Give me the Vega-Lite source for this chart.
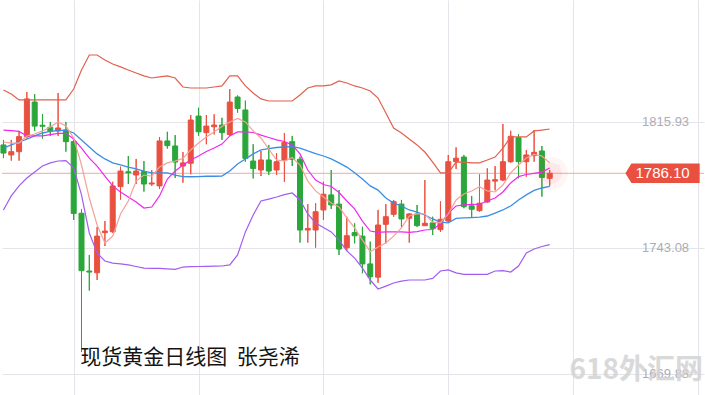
{
 "$schema": "https://vega.github.io/schema/vega-lite/v6.json",
 "width": 705,
 "height": 395,
 "autosize": {"type": "fit", "contains": "padding"},
 "padding": 0,
 "background": "#ffffff",
 "config": {"view": {"stroke": null}, "axis": {"title": null}},
 "data": {"values": [
  {"i":1,"o":1802.5,"h":1805.4,"l":1794.9,"c":1797.8,"ub":1834.3,"mb":1800.7,"lb":1764.9,"ma5":1804.2,"ma10":1811.1},
  {"i":2,"o":1796.7,"h":1805.4,"l":1793.4,"c":1798.6,"ub":1831.9,"mb":1802.5,"lb":1773.0,"ma5":1803.6,"ma10":1810.8},
  {"i":3,"o":1798.6,"h":1810.6,"l":1793.4,"c":1807.3,"ub":1828.5,"mb":1804.2,"lb":1778.8,"ma5":1803.6,"ma10":1810.3},
  {"i":4,"o":1807.3,"h":1833.1,"l":1806.3,"c":1829.1,"ub":1828.5,"mb":1805.9,"lb":1783.4,"ma5":1807.7,"ma10":1807.7},
  {"i":5,"o":1827.3,"h":1831.9,"l":1810.6,"c":1813.4,"ub":1828.5,"mb":1807.7,"lb":1786.8,"ma5":1808.8,"ma10":1807.7},
  {"i":6,"o":1813.9,"h":1820.4,"l":1806.2,"c":1813.3,"ub":1828.5,"mb":1809.4,"lb":1790.3,"ma5":1810.6,"ma10":1807.7},
  {"i":7,"o":1812.7,"h":1815.8,"l":1807.7,"c":1810.6,"ub":1828.5,"mb":1810.3,"lb":1792.1,"ma5":1812.9,"ma10":1808.5},
  {"i":8,"o":1810.6,"h":1832.5,"l":1807.7,"c":1812.3,"ub":1828.5,"mb":1810.8,"lb":1793.2,"ma5":1815.8,"ma10":1809.2},
  {"i":9,"o":1811.1,"h":1815.8,"l":1798.6,"c":1804.4,"ub":1828.5,"mb":1811.1,"lb":1793.4,"ma5":1813.4,"ma10":1809.2},
  {"i":10,"o":1804.4,"h":1805.4,"l":1759.1,"c":1762.9,"ub":1834.8,"mb":1809.4,"lb":1789.2,"ma5":1806.5,"ma10":1805.9},
  {"i":11,"o":1763.0,"h":1765.5,"l":1682.8,"c":1729.8,"ub":1845.8,"mb":1805.4,"lb":1773.6,"ma5":1790.9,"ma10":1800.7},
  {"i":12,"o":1729.6,"h":1738.9,"l":1718.3,"c":1729.0,"ub":1854.5,"mb":1801.3,"lb":1751.6,"ma5":1771.8,"ma10":1794.9},
  {"i":13,"o":1728.6,"h":1755.1,"l":1724.4,"c":1749.8,"ub":1854.5,"mb":1797.3,"lb":1740.0,"ma5":1756.2,"ma10":1790.3},
  {"i":14,"o":1751.8,"h":1758.5,"l":1744.1,"c":1752.7,"ub":1851.6,"mb":1794.4,"lb":1735.4,"ma5":1745.8,"ma10":1784.5},
  {"i":15,"o":1752.3,"h":1781.2,"l":1751.6,"c":1778.8,"ub":1849.3,"mb":1792.1,"lb":1734.2,"ma5":1749.8,"ma10":1778.8},
  {"i":16,"o":1778.4,"h":1789.9,"l":1770.9,"c":1787.4,"ub":1847.6,"mb":1790.9,"lb":1733.7,"ma5":1762.6,"ma10":1775.3},
  {"i":17,"o":1787.0,"h":1796.1,"l":1779.9,"c":1786.4,"ub":1845.8,"mb":1789.7,"lb":1733.1,"ma5":1770.1,"ma10":1772.4},
  {"i":18,"o":1785.1,"h":1794.4,"l":1779.9,"c":1787.4,"ub":1844.1,"mb":1788.6,"lb":1732.2,"ma5":1781.6,"ma10":1769.5},
  {"i":19,"o":1787.1,"h":1793.2,"l":1775.5,"c":1779.9,"ub":1842.4,"mb":1787.4,"lb":1731.3,"ma5":1785.1,"ma10":1766.0},
  {"i":20,"o":1779.9,"h":1788.0,"l":1778.8,"c":1780.5,"ub":1841.2,"mb":1786.4,"lb":1731.1,"ma5":1784.5,"ma10":1766.6},
  {"i":21,"o":1778.8,"h":1807.1,"l":1777.0,"c":1804.8,"ub":1841.8,"mb":1786.4,"lb":1731.1,"ma5":1789.7,"ma10":1773.0},
  {"i":22,"o":1804.8,"h":1810.1,"l":1800.4,"c":1802.1,"ub":1842.4,"mb":1786.4,"lb":1730.8,"ma5":1792.1,"ma10":1782.8},
  {"i":23,"o":1801.9,"h":1808.2,"l":1783.4,"c":1792.6,"ub":1841.2,"mb":1785.1,"lb":1730.6,"ma5":1793.2,"ma10":1787.4},
  {"i":24,"o":1790.3,"h":1798.4,"l":1780.7,"c":1792.1,"ub":1836.0,"mb":1784.2,"lb":1731.9,"ma5":1794.7,"ma10":1790.9},
  {"i":25,"o":1791.9,"h":1819.8,"l":1785.5,"c":1816.9,"ub":1835.4,"mb":1784.1,"lb":1732.1,"ma5":1799.6,"ma10":1793.8},
  {"i":26,"o":1819.2,"h":1824.0,"l":1807.8,"c":1810.1,"ub":1835.4,"mb":1784.2,"lb":1732.2,"ma5":1803.6,"ma10":1796.1},
  {"i":27,"o":1809.6,"h":1819.8,"l":1802.9,"c":1813.4,"ub":1835.4,"mb":1784.4,"lb":1732.3,"ma5":1807.1,"ma10":1798.7},
  {"i":28,"o":1813.0,"h":1820.2,"l":1808.6,"c":1814.0,"ub":1836.0,"mb":1784.4,"lb":1732.4,"ma5":1810.1,"ma10":1800.7},
  {"i":29,"o":1814.0,"h":1818.2,"l":1805.4,"c":1809.6,"ub":1836.6,"mb":1784.5,"lb":1732.5,"ma5":1813.2,"ma10":1803.0},
  {"i":30,"o":1808.5,"h":1834.8,"l":1807.7,"c":1827.3,"ub":1842.4,"mb":1787.4,"lb":1733.1,"ma5":1815.8,"ma10":1807.7},
  {"i":31,"o":1830.2,"h":1831.1,"l":1821.1,"c":1823.6,"ub":1842.4,"mb":1791.5,"lb":1738.9,"ma5":1817.8,"ma10":1810.0},
  {"i":32,"o":1822.7,"h":1828.1,"l":1792.8,"c":1794.7,"ub":1836.6,"mb":1794.4,"lb":1752.2,"ma5":1815.8,"ma10":1810.0},
  {"i":33,"o":1793.2,"h":1802.9,"l":1783.1,"c":1788.9,"ub":1832.5,"mb":1797.3,"lb":1762.0,"ma5":1810.6,"ma10":1809.7},
  {"i":34,"o":1788.0,"h":1799.0,"l":1784.5,"c":1793.8,"ub":1829.1,"mb":1799.6,"lb":1770.1,"ma5":1806.5,"ma10":1808.2},
  {"i":35,"o":1793.8,"h":1802.5,"l":1785.1,"c":1787.4,"ub":1827.9,"mb":1800.4,"lb":1771.2,"ma5":1800.1,"ma10":1806.8},
  {"i":36,"o":1788.0,"h":1797.8,"l":1785.1,"c":1792.8,"ub":1827.9,"mb":1801.0,"lb":1772.4,"ma5":1793.8,"ma10":1805.4},
  {"i":37,"o":1793.8,"h":1809.4,"l":1781.2,"c":1803.9,"ub":1827.9,"mb":1801.3,"lb":1773.8,"ma5":1793.2,"ma10":1804.5},
  {"i":38,"o":1804.4,"h":1807.7,"l":1790.3,"c":1794.2,"ub":1827.9,"mb":1801.5,"lb":1774.7,"ma5":1795.2,"ma10":1802.5},
  {"i":39,"o":1794.2,"h":1795.7,"l":1746.0,"c":1753.3,"ub":1831.4,"mb":1800.7,"lb":1770.7,"ma5":1790.9,"ma10":1797.3},
  {"i":40,"o":1753.3,"h":1768.3,"l":1746.0,"c":1754.2,"ub":1835.4,"mb":1799.0,"lb":1762.6,"ma5":1781.6,"ma10":1788.0},
  {"i":41,"o":1753.3,"h":1768.8,"l":1743.1,"c":1763.9,"ub":1836.6,"mb":1797.5,"lb":1757.4,"ma5":1775.9,"ma10":1782.2},
  {"i":42,"o":1764.9,"h":1781.2,"l":1759.1,"c":1774.0,"ub":1836.6,"mb":1796.1,"lb":1754.8,"ma5":1772.4,"ma10":1779.6},
  {"i":43,"o":1773.6,"h":1788.0,"l":1765.5,"c":1767.8,"ub":1837.2,"mb":1794.4,"lb":1752.2,"ma5":1768.9,"ma10":1778.5},
  {"i":44,"o":1768.3,"h":1776.4,"l":1738.9,"c":1742.3,"ub":1839.5,"mb":1792.1,"lb":1747.5,"ma5":1766.6,"ma10":1775.0},
  {"i":45,"o":1743.1,"h":1761.0,"l":1741.2,"c":1750.0,"ub":1838.3,"mb":1789.7,"lb":1741.2,"ma5":1760.3,"ma10":1770.1},
  {"i":46,"o":1751.8,"h":1757.2,"l":1745.6,"c":1750.0,"ub":1836.6,"mb":1786.4,"lb":1737.1,"ma5":1754.5,"ma10":1765.5},
  {"i":47,"o":1749.8,"h":1755.2,"l":1728.3,"c":1733.7,"ub":1835.4,"mb":1782.8,"lb":1731.3,"ma5":1747.5,"ma10":1758.5},
  {"i":48,"o":1733.7,"h":1746.6,"l":1721.9,"c":1726.3,"ub":1833.7,"mb":1778.8,"lb":1724.4,"ma5":1740.8,"ma10":1752.7},
  {"i":49,"o":1726.0,"h":1764.9,"l":1722.8,"c":1756.2,"ub":1829.6,"mb":1776.4,"lb":1719.2,"ma5":1743.5,"ma10":1751.9},
  {"i":50,"o":1756.6,"h":1768.3,"l":1745.6,"c":1761.0,"ub":1821.0,"mb":1771.8,"lb":1720.9,"ma5":1745.8,"ma10":1752.2},
  {"i":51,"o":1762.4,"h":1770.7,"l":1761.0,"c":1769.7,"ub":1812.3,"mb":1768.9,"lb":1722.7,"ma5":1749.8,"ma10":1752.3},
  {"i":52,"o":1768.3,"h":1770.7,"l":1755.2,"c":1759.7,"ub":1809.4,"mb":1767.2,"lb":1723.8,"ma5":1754.5,"ma10":1752.2},
  {"i":53,"o":1760.1,"h":1763.0,"l":1746.0,"c":1762.6,"ub":1805.9,"mb":1764.9,"lb":1724.4,"ma5":1761.4,"ma10":1751.9},
  {"i":54,"o":1762.6,"h":1767.8,"l":1755.2,"c":1755.8,"ub":1802.5,"mb":1763.7,"lb":1724.4,"ma5":1762.6,"ma10":1752.4},
  {"i":55,"o":1755.8,"h":1782.2,"l":1755.8,"c":1757.2,"ub":1798.4,"mb":1762.0,"lb":1724.4,"ma5":1762.6,"ma10":1753.3},
  {"i":56,"o":1757.4,"h":1761.0,"l":1750.4,"c":1754.1,"ub":1792.6,"mb":1759.7,"lb":1725.3,"ma5":1757.9,"ma10":1753.6},
  {"i":57,"o":1753.5,"h":1769.9,"l":1752.2,"c":1759.5,"ub":1786.3,"mb":1757.9,"lb":1729.6,"ma5":1757.5,"ma10":1756.8},
  {"i":58,"o":1758.5,"h":1796.7,"l":1757.9,"c":1792.8,"ub":1786.3,"mb":1757.4,"lb":1730.2,"ma5":1762.6,"ma10":1763.1},
  {"i":59,"o":1792.8,"h":1801.1,"l":1788.6,"c":1794.8,"ub":1792.6,"mb":1760.0,"lb":1728.5,"ma5":1770.7,"ma10":1767.2},
  {"i":60,"o":1795.5,"h":1796.7,"l":1765.9,"c":1766.8,"ub":1792.6,"mb":1760.3,"lb":1727.7,"ma5":1774.1,"ma10":1767.8},
  {"i":61,"o":1767.3,"h":1773.0,"l":1760.7,"c":1765.3,"ub":1792.1,"mb":1760.5,"lb":1727.7,"ma5":1775.9,"ma10":1768.1},
  {"i":62,"o":1764.5,"h":1785.5,"l":1763.9,"c":1768.8,"ub":1792.1,"mb":1760.7,"lb":1727.7,"ma5":1778.4,"ma10":1768.2},
  {"i":63,"o":1769.5,"h":1789.0,"l":1769.1,"c":1782.2,"ub":1793.8,"mb":1761.4,"lb":1727.7,"ma5":1775.9,"ma10":1770.1},
  {"i":64,"o":1781.6,"h":1790.3,"l":1776.2,"c":1782.4,"ub":1795.5,"mb":1763.1,"lb":1729.6,"ma5":1775.3,"ma10":1771.8},
  {"i":65,"o":1782.2,"h":1814.6,"l":1781.6,"c":1792.8,"ub":1800.7,"mb":1764.9,"lb":1729.8,"ma5":1779.3,"ma10":1775.3},
  {"i":66,"o":1792.8,"h":1810.7,"l":1792.2,"c":1807.5,"ub":1807.1,"mb":1767.2,"lb":1729.0,"ma5":1786.3,"ma10":1780.5},
  {"i":67,"o":1806.7,"h":1808.8,"l":1783.2,"c":1792.8,"ub":1807.1,"mb":1770.7,"lb":1732.5,"ma5":1790.9,"ma10":1784.2},
  {"i":68,"o":1792.8,"h":1799.6,"l":1784.1,"c":1796.7,"ub":1807.1,"mb":1773.6,"lb":1740.0,"ma5":1794.9,"ma10":1785.4},
  {"i":69,"o":1796.3,"h":1811.1,"l":1792.8,"c":1798.2,"ub":1810.6,"mb":1776.2,"lb":1742.3,"ma5":1797.0,"ma10":1786.1},
  {"i":70,"o":1799.0,"h":1801.9,"l":1772.6,"c":1783.7,"ub":1811.1,"mb":1777.6,"lb":1743.8,"ma5":1796.1,"ma10":1786.8},
  {"i":71,"o":1783.2,"h":1788.0,"l":1778.8,"c":1786.1,"ub":1811.7,"mb":1778.5,"lb":1744.9,"ma5":1792.1,"ma10":1789.2}
 ]},
 "layer": [
  {
   "mark": {"type": "rule", "strokeWidth": 1},
   "encoding": {
    "x": {"field": "i", "type": "quantitative", "scale": {"domain": [1.453, 90.13], "nice": false, "zero": false},
          "axis": {"values": [10, 26, 42, 58, 74, 90], "labels": false, "ticks": false, "domain": false, "grid": true, "gridColor": "#e4e4ea", "gridWidth": 1, "title": null}},
    "y": {"field": "l", "type": "quantitative", "scale": {"domain": [1657.92, 1886.29], "nice": false, "zero": false},
          "axis": {"values": [1670.23, 1743.08, 1815.93], "labels": false, "ticks": false, "domain": false, "grid": true, "gridColor": "#e4e4ea", "gridWidth": 1, "title": null}},
    "y2": {"field": "h"},
    "color": {"condition": {"test": "datum.c >= datum.o", "value": "#e9503f"}, "value": "#2aa63a"}
   }
  },
  {
   "data": {"values": [{"p": 1786.1}]},
   "mark": {"type": "rule", "color": "#f2a6a6", "strokeWidth": 1},
   "encoding": {"y": {"field": "p", "type": "quantitative"}}
  },
  {
   "mark": {"type": "rule", "strokeWidth": 1},
   "encoding": {
    "x": {"field": "i", "type": "quantitative"},
    "y": {"field": "l", "type": "quantitative"},
    "y2": {"field": "h"},
    "color": {"condition": {"test": "datum.c >= datum.o", "value": "#e9503f"}, "value": "#2aa63a"}
   }
  },
  {
   "mark": {"type": "bar", "width": 5, "strokeWidth": 1},
   "encoding": {
    "x": {"field": "i", "type": "quantitative"},
    "y": {"field": "o", "type": "quantitative"},
    "y2": {"field": "c"},
    "color": {"condition": {"test": "datum.c >= datum.o", "value": "#e9503f"}, "value": "#2aa63a"},
    "stroke": {"condition": {"test": "datum.c >= datum.o", "value": "#e9503f"}, "value": "#2aa63a"}
   }
  },
  {
   "mark": {"type": "line", "color": "#e2604e", "strokeWidth": 1.2},
   "encoding": {"x": {"field": "i", "type": "quantitative"}, "y": {"field": "ub", "type": "quantitative"}}
  },
  {
   "mark": {"type": "line", "color": "#a35cf0", "strokeWidth": 1.2},
   "encoding": {"x": {"field": "i", "type": "quantitative"}, "y": {"field": "lb", "type": "quantitative"}}
  },
  {
   "mark": {"type": "line", "color": "#3a8ee6", "strokeWidth": 1.3},
   "encoding": {"x": {"field": "i", "type": "quantitative"}, "y": {"field": "mb", "type": "quantitative"}}
  },
  {
   "mark": {"type": "line", "color": "#f028f0", "strokeWidth": 1.2},
   "encoding": {"x": {"field": "i", "type": "quantitative"}, "y": {"field": "ma10", "type": "quantitative"}}
  },
  {
   "mark": {"type": "line", "color": "#f5a198", "strokeWidth": 1.2},
   "encoding": {"x": {"field": "i", "type": "quantitative"}, "y": {"field": "ma5", "type": "quantitative"}}
  },
  {
   "data": {"values": [{"p": 1786.1}]},
   "mark": {"type": "point", "shape": "circle", "filled": true, "color": "#f05050", "opacity": 0.06, "size": 1100},
   "encoding": {"x": {"datum": 71.2}, "y": {"field": "p", "type": "quantitative"}}
  },
  {
   "data": {"values": [{"p": 1786.1}]},
   "mark": {"type": "point", "shape": "circle", "filled": true, "color": "#f05050", "opacity": 0.08, "size": 450},
   "encoding": {"x": {"datum": 71.2}, "y": {"field": "p", "type": "quantitative"}}
  },
  {
   "data": {"values": [{"p": 1786.1}]},
   "mark": {"type": "point", "shape": "M-1,0L-0.838,-0.261L1,-0.261L1,0.261L-0.838,0.261Z", "filled": true, "color": "#e9503f", "opacity": 1, "size": 5520},
   "encoding": {"x": {"datum": 85.46}, "y": {"field": "p", "type": "quantitative"}}
  },
  {
   "data": {"values": [{"p": 1786.1, "t": "1786.10"}]},
   "mark": {"type": "text", "align": "center", "baseline": "middle", "fontSize": 15, "font": "Liberation Sans", "color": "#ffffff"},
   "encoding": {"x": {"datum": 85.46}, "y": {"field": "p", "type": "quantitative"}, "text": {"field": "t"}}
  },
  {
   "data": {"values": [{"p": 1815.93, "t": "1815.93"}, {"p": 1743.08, "t": "1743.08"}, {"p": 1670.23, "t": "1669.88"}]},
   "mark": {"type": "text", "align": "left", "baseline": "middle", "fontSize": 13, "font": "Liberation Sans", "color": "#acacb6"},
   "encoding": {"x": {"datum": 82.84}, "y": {"field": "p", "type": "quantitative"}, "text": {"field": "t"}}
  },
  {
   "data": {"values": [{"t": "现货黄金日线图\u00a0\u00a0张尧浠"}]},
   "mark": {"type": "text", "align": "left", "baseline": "middle", "fontSize": 21, "font": "Noto Sans CJK SC", "color": "#141414"},
   "encoding": {"x": {"datum": 10.85}, "y": {"datum": 1679.3}, "text": {"field": "t"}}
  },
  {
   "data": {"values": [{"t": "618外汇网"}]},
   "mark": {"type": "text", "align": "left", "baseline": "middle", "fontSize": 28, "fontWeight": "bold", "font": "Noto Sans CJK SC", "color": "#d4d4d4", "opacity": 0.88},
   "encoding": {"x": {"datum": 73.53}, "y": {"datum": 1671.8}, "text": {"field": "t"}}
  }
 ]
}
